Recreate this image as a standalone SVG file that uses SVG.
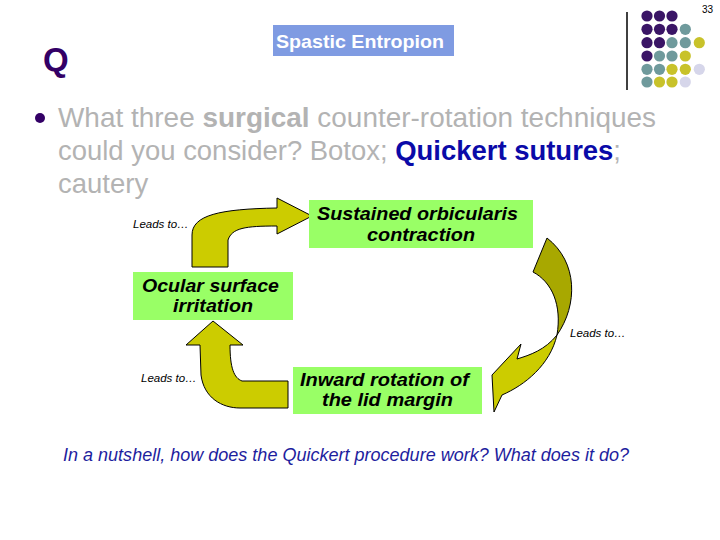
<svg xmlns="http://www.w3.org/2000/svg" width="720" height="540" viewBox="0 0 720 540">
<style>
.t{font-family:"Liberation Sans",Arial,sans-serif}
.pu{fill:#3a1566}.te{fill:#6f9a9c}.ye{fill:#c8c22a}.la{fill:#d6d6ea}
.box{fill:#99ff66}
.bl{font-family:"Liberation Sans",Arial,sans-serif;font-weight:bold;font-style:italic;font-size:19px;fill:#000}
.lt{font-family:"Liberation Sans",Arial,sans-serif;font-style:italic;font-size:11.5px;fill:#000}
.bt{font-family:"Liberation Sans",Arial,sans-serif;font-size:27.5px;fill:#b3b3b3}
.arr{fill:#cccc00;stroke:#000;stroke-width:1}
.arrd{fill:#a8a800;stroke:#000;stroke-width:1}
</style>
<rect width="720" height="540" fill="#fff"/>
<g id="decor">
<text x="713" y="13" class="t" font-size="10" text-anchor="end" fill="#000">33</text>
<line x1="627" y1="12" x2="627" y2="90" stroke="#000" stroke-width="1.5"/>
<g>
<circle cx="647" cy="16" r="5.6" class="pu"/><circle cx="659.5" cy="16" r="5.6" class="pu"/><circle cx="672" cy="16" r="5.6" class="pu"/>
<circle cx="647" cy="29.3" r="5.6" class="pu"/><circle cx="659.5" cy="29.3" r="5.6" class="pu"/><circle cx="672" cy="29.3" r="5.6" class="pu"/><circle cx="685.3" cy="29.3" r="5.6" class="te"/>
<circle cx="647" cy="42.7" r="5.6" class="pu"/><circle cx="659.5" cy="42.7" r="5.6" class="pu"/><circle cx="672" cy="42.7" r="5.6" class="te"/><circle cx="685.3" cy="42.7" r="5.6" class="te"/><circle cx="699.3" cy="42.7" r="5.6" class="ye"/>
<circle cx="647" cy="56" r="5.6" class="pu"/><circle cx="659.5" cy="56" r="5.6" class="te"/><circle cx="672" cy="56" r="5.6" class="te"/><circle cx="685.3" cy="56" r="5.6" class="ye"/>
<circle cx="647" cy="69.3" r="5.6" class="te"/><circle cx="659.5" cy="69.3" r="5.6" class="te"/><circle cx="672" cy="69.3" r="5.6" class="ye"/><circle cx="685.3" cy="69.3" r="5.6" class="ye"/><circle cx="699.3" cy="69.3" r="5.6" class="la"/>
<circle cx="647" cy="82" r="5.6" class="te"/><circle cx="659.5" cy="82" r="5.6" class="ye"/><circle cx="672" cy="82" r="5.6" class="ye"/><circle cx="685.3" cy="82" r="5.6" class="la"/>
</g>
<text x="43" y="71" class="t" font-size="33" font-weight="bold" fill="#330066">Q</text>
</g>
<g id="title">
<rect x="273" y="25" width="181" height="31" fill="#7f9be2"/>
<text x="276" y="48" class="t" font-size="19" font-weight="bold" fill="#fff" textLength="168" lengthAdjust="spacingAndGlyphs">Spastic Entropion</text>
</g>
<g id="bullet">
<circle cx="40" cy="118" r="5" fill="#330066"/>
<text x="58" y="127" class="bt" textLength="598" lengthAdjust="spacingAndGlyphs">What three <tspan font-weight="bold">surgical</tspan> counter-rotation techniques</text>
<text x="58" y="160" class="bt" textLength="563" lengthAdjust="spacingAndGlyphs">could you consider? Botox; <tspan font-weight="bold" fill="#0a0aa8">Quickert sutures</tspan>;</text>
<text x="58" y="193" class="bt">cautery</text>
</g>
<g id="connectors">
<path class="arr" d="M192,267 L192,235 C192,215 220,209 277,208 L277,198 L312,216 L277,234 L277,226 C245,226 232,228 228,240 L228,267 Z"/>
<path class="arrd" d="M557,335 C578,305 578,262 547,238 L533,272 C552,282 562,305 557,335 Z"/>
<path class="arr" d="M557,335 C545,350 530,355 517,359 L521,344 L492,375 L494,412 L502,395 C525,385 550,365 557,335 Z"/>
<path class="arr" d="M200,345 L201,375 C204,398 222,408 240,408 L288,408 L288,381 L242,381 C234,378 230,368 230,345 L243,345 L213,321 L186,345 Z"/>
<text x="133" y="228" class="lt">Leads to…</text>
<text x="570" y="337" class="lt">Leads to…</text>
<text x="141" y="382" class="lt">Leads to…</text>
</g>
<g id="node-sustained">
<rect x="309" y="200" width="224" height="48" class="box"/>
<text x="317" y="220" class="bl" textLength="201" lengthAdjust="spacingAndGlyphs">Sustained orbicularis</text>
<text x="367" y="241" class="bl" textLength="108" lengthAdjust="spacingAndGlyphs">contraction</text>
</g>
<g id="node-ocular">
<rect x="133" y="272" width="160" height="48" class="box"/>
<text x="142" y="292" class="bl" textLength="137" lengthAdjust="spacingAndGlyphs">Ocular surface</text>
<text x="173" y="312" class="bl" textLength="80" lengthAdjust="spacingAndGlyphs">irritation</text>
</g>
<g id="node-inward">
<rect x="293" y="367" width="189" height="47" class="box"/>
<text x="300" y="386" class="bl" textLength="169" lengthAdjust="spacingAndGlyphs">Inward rotation of</text>
<text x="322" y="406" class="bl" textLength="131" lengthAdjust="spacingAndGlyphs">the lid margin</text>
</g>
<g id="question">
<text x="63" y="461" class="t" font-size="17.5" font-style="italic" fill="#1e1e9e" textLength="566" lengthAdjust="spacingAndGlyphs">In a nutshell, how does the Quickert procedure work? What does it do?</text>
</g>
</svg>
